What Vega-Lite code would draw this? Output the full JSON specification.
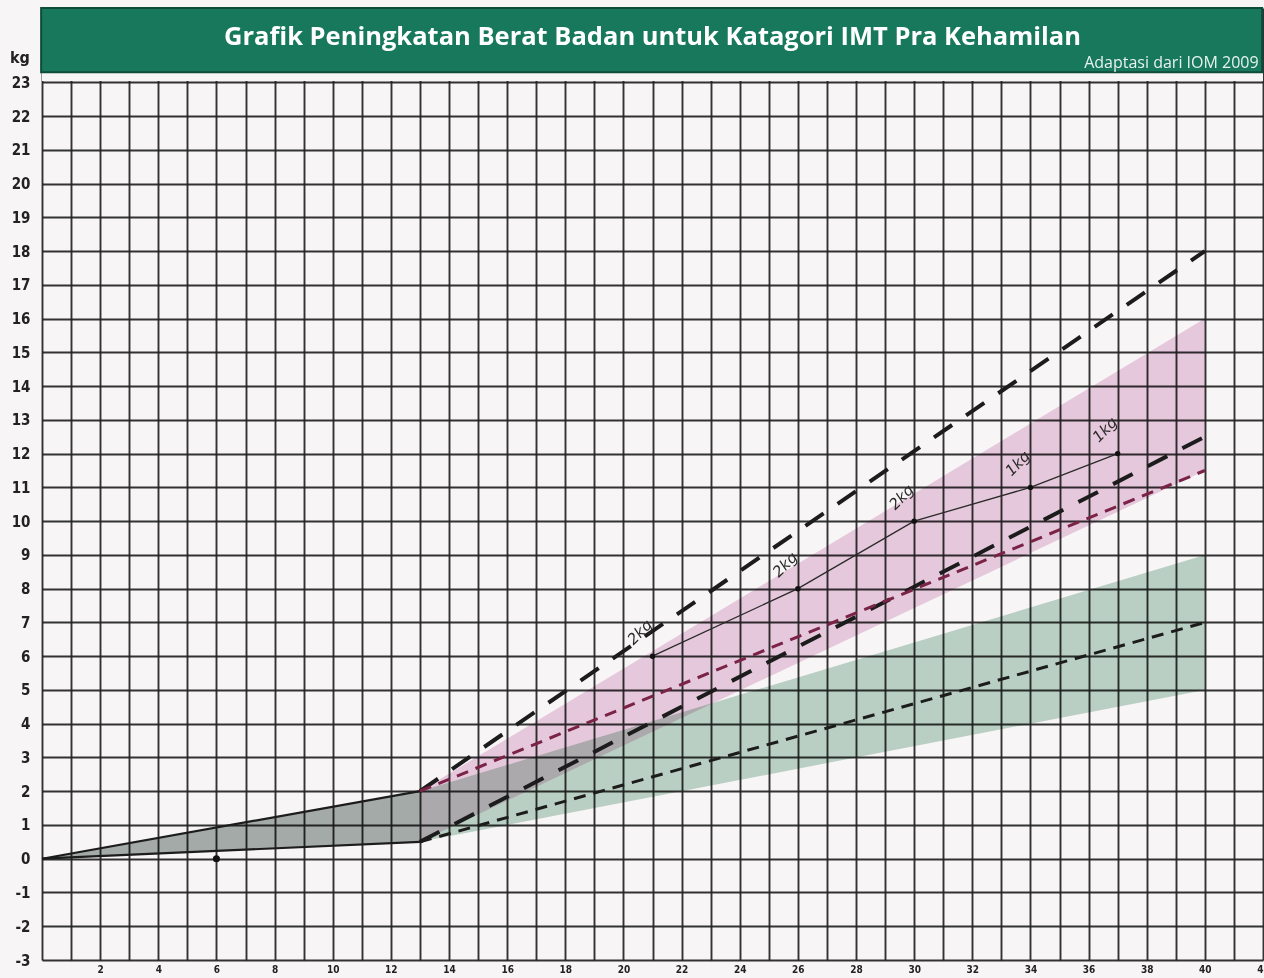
{
  "$schema": "https://vega.github.io/schema/vega-lite/v6.json",
  "autosize": {"type": "none"},
  "padding": {"left": 42, "top": 8, "right": 1, "bottom": 18},
  "background": "#f8f5f6",
  "width": 1221,
  "height": 952,
  "view": {"stroke": null},
  "config": {
    "axis": {"labelColor": "#222222", "gridColor": "#222222", "gridWidth": 1.9, "gridOpacity": 0.92}
  },
  "resolve": {"axis": {"x": "independent", "y": "independent"}},
  "datasets": {
    "bands": [
      {"band": "grey", "week": 0, "lo": 0, "hi": 0},
      {"band": "grey", "week": 13, "lo": 0.5, "hi": 2},
      {"band": "pink", "week": 13, "lo": 0.5, "hi": 2},
      {"band": "pink", "week": 40, "lo": 11.5, "hi": 16},
      {"band": "green", "week": 13, "lo": 0.5, "hi": 2},
      {"band": "green", "week": 40, "lo": 5, "hi": 9}
    ],
    "refs": [
      {"series": "t1_hi", "week": 0, "kg": 0},
      {"series": "t1_hi", "week": 13, "kg": 2},
      {"series": "t1_lo", "week": 0, "kg": 0},
      {"series": "t1_lo", "week": 13, "kg": 0.5},
      {"series": "ub_hi", "week": 13, "kg": 2},
      {"series": "ub_hi", "week": 40, "kg": 18},
      {"series": "ub_lo", "week": 13, "kg": 0.5},
      {"series": "ub_lo", "week": 40, "kg": 12.5},
      {"series": "ow_hi", "week": 13, "kg": 2},
      {"series": "ow_hi", "week": 40, "kg": 11.5},
      {"series": "ow_lo", "week": 13, "kg": 0.5},
      {"series": "ow_lo", "week": 40, "kg": 7}
    ],
    "patient": [
      {"week": 21, "kg": 6, "note": "2kg"},
      {"week": 26, "kg": 8, "note": "2kg"},
      {"week": 30, "kg": 10, "note": "2kg"},
      {"week": 34, "kg": 11, "note": "1kg"},
      {"week": 37, "kg": 12, "note": "1kg"}
    ],
    "visit": [{"week": 6, "kg": 0}],
    "headline": [{"title": "Grafik Peningkatan Berat Badan untuk Katagori IMT Pra Kehamilan", "source": "Adaptasi dari IOM 2009", "unit": "kg"}]
  },
  "layer": [
    {
      "encoding": {
        "x": {
          "field": "week", "type": "quantitative",
          "scale": {"domain": [0, 42], "nice": false, "zero": false},
          "axis": {
            "values": [0,1,2,3,4,5,6,7,8,9,10,11,12,13,14,15,16,17,18,19,20,21,22,23,24,25,26,27,28,29,30,31,32,33,34,35,36,37,38,39,40,41,42],
            "labelExpr": "datum.value % 2 == 0 && datum.value > 0 ? datum.label : ''",
            "labelOverlap": false, "labelFlush": false,
            "grid": true, "ticks": false, "domain": false, "title": null,
            "labelFont": "DejaVu Sans Condensed", "labelFontWeight": "bold", "labelFontSize": 10, "labelPadding": 4
          }
        },
        "y": {
          "field": "kg", "type": "quantitative",
          "scale": {"domain": [-3, 25.2], "nice": false, "zero": false},
          "axis": {
            "values": [-3,-2,-1,0,1,2,3,4,5,6,7,8,9,10,11,12,13,14,15,16,17,18,19,20,21,22,23],
            "labelExpr": "replace(datum.label, '\u2212', '-')",
            "labelOverlap": false,
            "grid": true, "ticks": false, "domain": false, "title": null,
            "labelFont": "DejaVu Sans Condensed", "labelFontWeight": "bold", "labelFontSize": 15, "labelPadding": 12
          }
        }
      },
      "layer": [
        {
          "data": {"name": "bands"},
          "transform": [{"filter": "datum.band == 'pink'"}],
          "mark": {"type": "area", "color": "#ecd0e3", "blend": "multiply"},
          "encoding": {"y": {"field": "lo", "type": "quantitative"}, "y2": {"field": "hi"}}
        },
        {
          "data": {"name": "bands"},
          "transform": [{"filter": "datum.band == 'green'"}],
          "mark": {"type": "area", "color": "#c0d8ca", "blend": "multiply"},
          "encoding": {"y": {"field": "lo", "type": "quantitative"}, "y2": {"field": "hi"}}
        },
        {
          "data": {"name": "bands"},
          "transform": [{"filter": "datum.band == 'grey'"}],
          "mark": {"type": "area", "color": "#a9b1ad", "blend": "multiply"},
          "encoding": {"y": {"field": "lo", "type": "quantitative"}, "y2": {"field": "hi"}}
        },
        {
          "data": {"name": "refs"},
          "transform": [{"filter": "datum.series == 't1_hi' || datum.series == 't1_lo'"}],
          "mark": {"type": "line", "color": "#1c1c1c", "strokeWidth": 2.2},
          "encoding": {"detail": {"field": "series"}}
        },
        {
          "data": {"name": "refs"},
          "transform": [{"filter": "datum.series == 'ub_hi' || datum.series == 'ub_lo'"}],
          "mark": {"type": "line", "color": "#1c1c1c", "strokeWidth": 4, "strokeDash": [22, 17]},
          "encoding": {"detail": {"field": "series"}}
        },
        {
          "data": {"name": "refs"},
          "transform": [{"filter": "datum.series == 'ow_hi'"}],
          "mark": {"type": "line", "color": "#7a2346", "strokeWidth": 3, "strokeDash": [12, 8]},
          "encoding": {}
        },
        {
          "data": {"name": "refs"},
          "transform": [{"filter": "datum.series == 'ow_lo'"}],
          "mark": {"type": "line", "color": "#1c1c1c", "strokeWidth": 3, "strokeDash": [12, 8]},
          "encoding": {}
        },
        {
          "data": {"name": "patient"},
          "mark": {"type": "line", "color": "#2a2a2a", "strokeWidth": 1.3},
          "encoding": {}
        },
        {
          "data": {"name": "patient"},
          "mark": {"type": "point", "filled": true, "color": "#111111", "size": 30, "opacity": 1},
          "encoding": {}
        },
        {
          "data": {"name": "patient"},
          "mark": {"type": "text", "font": "DejaVu Sans", "fontStyle": "italic", "fontSize": 15, "color": "#2a2a2a", "angle": 315, "dx": 8, "dy": -26, "align": "center"},
          "encoding": {"text": {"field": "note"}}
        },
        {
          "data": {"name": "visit"},
          "mark": {"type": "point", "filled": true, "color": "#111111", "size": 50, "opacity": 1},
          "encoding": {}
        }
      ]
    },
    {
      "data": {"name": "headline"},
      "layer": [
        {
          "mark": {"type": "rect", "color": "#f8f5f6"},
          "encoding": {
            "x": {"datum": 0, "type": "quantitative", "axis": null}, "x2": {"datum": 42},
            "y": {"datum": 23.04, "type": "quantitative", "axis": null}, "y2": {"datum": 25.2}
          }
        },
        {
          "mark": {"type": "rect", "color": "#17785b", "stroke": "#0f4b39", "strokeWidth": 2},
          "encoding": {
            "x": {"datum": -0.03, "type": "quantitative", "axis": null}, "x2": {"datum": 41.97},
            "y": {"datum": 23.3, "type": "quantitative", "axis": null}, "y2": {"datum": 25.2}
          }
        },
        {
          "mark": {"type": "text", "font": "Open Sans", "fontWeight": "bold", "fontSize": 25.5, "color": "#ffffff", "align": "center", "baseline": "middle"},
          "encoding": {
            "x": {"datum": 21.0, "type": "quantitative", "axis": null},
            "y": {"datum": 24.35, "type": "quantitative", "axis": null},
            "text": {"field": "title"}
          }
        },
        {
          "mark": {"type": "text", "font": "Open Sans", "fontSize": 16, "color": "#e8f2ee", "align": "right", "baseline": "middle"},
          "encoding": {
            "x": {"datum": 41.85, "type": "quantitative", "axis": null},
            "y": {"datum": 23.58, "type": "quantitative", "axis": null},
            "text": {"field": "source"}
          }
        },
        {
          "mark": {"type": "text", "font": "DejaVu Sans Condensed", "fontWeight": "bold", "fontSize": 16, "color": "#222222", "align": "center", "baseline": "middle"},
          "encoding": {
            "x": {"datum": -0.76, "type": "quantitative", "axis": null},
            "y": {"datum": 23.72, "type": "quantitative", "axis": null},
            "text": {"field": "unit"}
          }
        }
      ]
    }
  ]
}
